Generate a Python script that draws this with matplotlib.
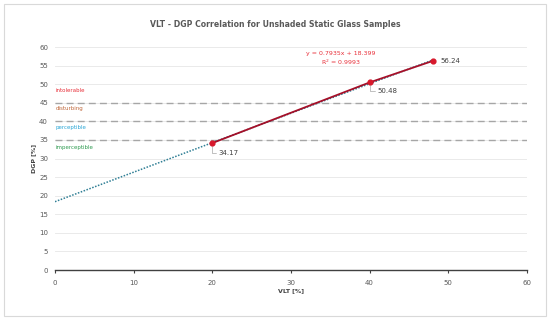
import matplotlib
matplotlib.use("Agg")
import matplotlib.pyplot as plt
import numpy as np
from matplotlib.patches import Rectangle

vlt = [20, 40, 48]
dgp = [34.17, 50.48, 56.24]
slope, intercept = 0.7935, 18.399
thresholds = [35, 40, 45]
zones = ["intolerable", "disturbing", "perceptible", "imperceptible"]
zone_y = [48.4, 43.4, 38.3, 33.0]
zone_colors = ["#e8303a", "#c0673a", "#2aa6d6", "#2e9a50"]
xticks = [0, 10, 20, 30, 40, 50, 60]
yticks = list(range(0, 65, 5))

fig = plt.figure(figsize=(5.5, 3.2), dpi=100)
fig.patch.set_facecolor("white")
fig.add_artist(Rectangle((0.008, 0.012), 0.984, 0.976, transform=fig.transFigure,
                         fill=False, edgecolor="#d9d9d9", linewidth=0.8))
ax = fig.add_axes([0.1, 0.156, 0.858, 0.697])
ax.set_xlim(0, 60)
ax.set_ylim(0, 60)
ax.set_xticks(xticks)
ax.set_yticks(yticks)
ax.grid(axis="y", color="#e6e6e6", linewidth=0.6)
ax.set_axisbelow(True)
for s in ["left", "right", "top"]:
    ax.spines[s].set_visible(False)
ax.spines["bottom"].set_color("#404040")
ax.spines["bottom"].set_linewidth(1.0)
ax.tick_params(axis="y", length=0, labelsize=5, labelcolor="#595959", pad=5)
ax.tick_params(axis="x", length=2, width=0.8, color="#404040", labelsize=5, labelcolor="#595959", pad=5)

for t in thresholds:
    ax.axhline(t, color="#a6a6a6", linestyle=(0, (5, 3)), linewidth=1.0, zorder=1)
for name, yv, c in zip(zones, zone_y, zone_colors):
    ax.text(0.05, yv, name, color=c, fontsize=4.0, va="center", ha="left")

xt = np.array([0, max(vlt)])
ax.plot(xt, slope * xt + intercept, linestyle=(0, (1, 1)), color="#2f7f95", linewidth=1.1, zorder=2)
ax.plot(vlt, dgp, color="#a50f28", linewidth=1.3, zorder=3)
ax.scatter(vlt, dgp, color="#d7192c", s=12, zorder=4)

# data labels
ax.annotate(f"{dgp[0]:.2f}", xy=(vlt[0], dgp[0]), xytext=(vlt[0] + 0.8, dgp[0] - 2.6),
            fontsize=5, color="#404040", ha="left", va="center",
            arrowprops=dict(arrowstyle="-", color="#a6a6a6", linewidth=0.5,
                            connectionstyle="angle,angleA=0,angleB=90", shrinkA=0, shrinkB=2))
ax.annotate(f"{dgp[1]:.2f}", xy=(vlt[1], dgp[1]), xytext=(vlt[1] + 1.0, dgp[1] - 2.4),
            fontsize=5, color="#404040", ha="left", va="center",
            arrowprops=dict(arrowstyle="-", color="#a6a6a6", linewidth=0.5,
                            connectionstyle="angle,angleA=0,angleB=90", shrinkA=0, shrinkB=2))
ax.text(vlt[2] + 1.0, dgp[2], f"{dgp[2]:.2f}", fontsize=5, color="#404040", ha="left", va="center")

ax.text(36.3, 58.3, f"y = {slope}x + {intercept}", fontsize=4.5, color="#e8303a", ha="center", va="center")
ax.text(36.3, 55.9, "R$^2$ = 0.9993", fontsize=4.5, color="#e8303a", ha="center", va="center")

ax.set_xlabel("VLT [%]", fontsize=4.5, fontweight="bold", color="#404040", labelpad=2)
ax.set_ylabel("DGP [%]", fontsize=4.5, fontweight="bold", color="#404040", labelpad=2)
fig.text(0.5, 0.922, "VLT - DGP Correlation for Unshaded Static Glass Samples",
         ha="center", va="center", fontsize=5.6, fontweight="bold", color="#595959")

fig.savefig("out.png", dpi=100)
